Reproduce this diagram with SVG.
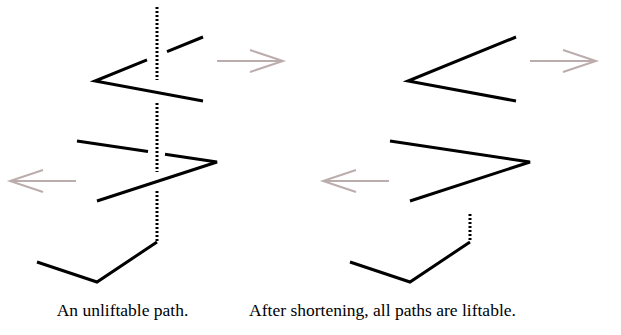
<svg xmlns="http://www.w3.org/2000/svg" width="621" height="335" viewBox="0 0 621 335">
<style>
.p{fill:none;stroke:#000;stroke-width:3;stroke-linejoin:miter}
.d{fill:none;stroke:#000;stroke-width:3;stroke-dasharray:2 2}
.a{fill:none;stroke:#bcadad;stroke-width:2}
.t{font-family:"Liberation Serif",serif;font-size:17.5px;fill:#000;text-anchor:middle}
</style>
<rect width="621" height="335" fill="#fff"/>
<g id="left">
<g id="left-paths">
<polyline class="p" points="203,37 167,51.7"/>
<polyline class="p" points="147,59.8 95,81 203,101"/>
<polyline class="p" points="77,141 148,151.6"/>
<polyline class="p" points="165,154.2 217,162 97,201"/>
<polyline class="p" points="37,262 97,282 157,242"/>
</g>
<g id="left-dotted">
<line class="d" x1="157" y1="7" x2="157" y2="80"/>
<line class="d" x1="157" y1="103" x2="157" y2="172"/>
<line class="d" x1="157" y1="191" x2="157" y2="241"/>
</g>
<g id="left-arrows">
<path class="a" d="M217,61H283M250,50L283,61L250,72"/>
<path class="a" d="M76,181H10M43,170L10,181L43,192"/>
</g>
<text class="t" x="122.5" y="316">An unliftable path.</text>
</g>
<g id="right">
<g id="right-paths">
<polyline class="p" points="516,37 408,81 516,101"/>
<polyline class="p" points="390,141 530,162 410,201"/>
<polyline class="p" points="350,262 410,282 470,242"/>
</g>
<line class="d" x1="470" y1="214" x2="470" y2="241"/>
<g id="right-arrows">
<path class="a" d="M530,61H596M563,50L596,61L563,72"/>
<path class="a" d="M389,181H323M356,170L323,181L356,192"/>
</g>
<text class="t" x="382.5" y="316">After shortening, all paths are liftable.</text>
</g>
</svg>
